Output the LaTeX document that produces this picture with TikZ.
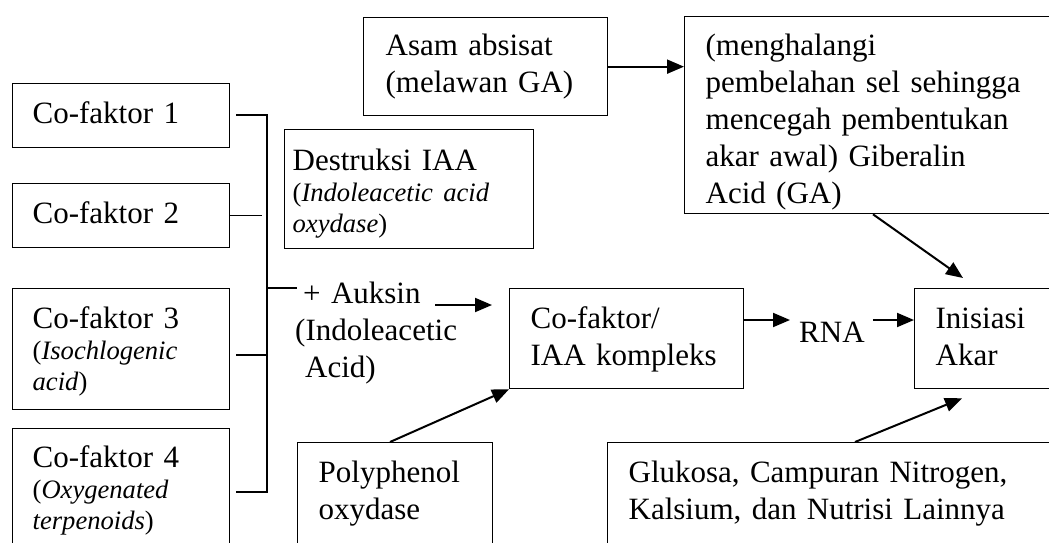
\documentclass[tikz,border=0pt]{standalone}
\usepackage{fontspec}
\setmainfont{Liberation Serif}
\usetikzlibrary{arrows.meta,calc}

\begin{document}
\begin{tikzpicture}[x=1pt,y=-1pt]
	\tikzstyle{box} = [draw, line width=1.3pt, anchor=north west, align=left, inner ysep=0pt, font={\fontsize{31}{37}\selectfont}];
	\tikzstyle{plain} = [inner sep=0pt, align=left, font={\fontsize{31}{37}\selectfont}];
	\tikzstyle{link} = [line width=1.3pt];
	\tikzstyle{point} = [-{Triangle[length=17pt,width=14pt]}, line width=2pt];

	\def \sub {\fontsize{26.6}{31}\selectfont}

	\useasboundingbox (0,0) rectangle (1049,543);
	\clip (0,0) rectangle (1049,543);

	% cofactors on the left
	\node[box, inner xsep=20pt, text width=177pt, text height=40pt, text depth=24pt] (cof1) at (12,83) {Co-faktor 1};
	\node[box, inner xsep=20pt, text width=177pt, text height=40pt, text depth=24pt] (cof2) at (12,183) {Co-faktor 2};
	\node[box, inner xsep=20pt, text width=177pt, text height=40pt, text depth=81pt] (cof3) at (12,288)
		{Co-faktor 3\\\sub(\textit{Isochlogenic}\\\textit{acid})\par};
	\node[box, inner xsep=20pt, text width=177pt, text height=39pt, text depth=110pt] (cof4) at (12,428)
		{Co-faktor 4\\\sub(\textit{Oxygenated}\\\textit{terpenoids})\par};

	% upper boxes
	\node[box, inner xsep=22pt, text width=200pt, text height=38pt, text depth=60pt] (asam) at (363,17)
		{Asam absisat\\(melawan GA)};
	\node[box, inner xsep=8pt, text width=233pt, text height=41pt, text depth=78pt] (destruksi) at (284,129)
		{Destruksi IAA\\\sub(\textit{Indoleacetic acid}\\\textit{oxydase})\par};
	\node[box, inner xsep=21pt, text width=345pt, text height=39pt, text depth=158pt] (ga) at (684,16)
		{(menghalangi\\pembelahan sel sehingga\\mencegah pembentukan\\akar awal) Giberalin\\Acid (GA)};

	% middle row
	\node[plain, text width=150pt, anchor=base west] (auksin) at (295,303)
		{\hspace*{8pt}+ Auksin\\(Indoleacetic\\\hspace*{10pt}Acid)};
	\node[box, inner xsep=21pt, text width=192pt, text height=40pt, text depth=60pt] (cofIAA) at (509,288)
		{Co-faktor/\\IAA kompleks};
	\node[plain, anchor=base west] (rna) at (799,342) {RNA};
	\node[box, inner xsep=21pt, text width=150pt, text height=40pt, text depth=60pt] (ini) at (914,288)
		{Inisiasi\\Akar};

	% lower boxes
	\node[box, inner xsep=21pt, text width=153pt, text height=40pt, text depth=80pt] (poly) at (297,442)
		{Polyphenol\\oxydase};
	\node[box, inner xsep=21pt, text width=420pt, text height=40pt, text depth=80pt] (glu) at (607,442)
		{Glukosa, Campuran Nitrogen,\\Kalsium, dan Nutrisi Lainnya};

	% bracket joining the cofactors
	\coordinate (bus) at (267,288);
	\foreach \c/\dy in {cof1/32,cof3/67,cof4/64} {
		\draw[link] ([xshift=6pt,yshift=-\dy pt]\c.north east) -| (bus);
	}
	\draw[link] (cof2.east) -- ++(32,0);
	\draw[link] (bus) -- ++(30,0);

	% arrows
	\coordinate (auksinEnd) at (435,305);
	\draw[point, shorten >=17pt] (auksinEnd) -- (auksinEnd -| cofIAA.west);
	\draw[point] (asam.east) -- (asam.east -| ga.west);
	\draw[point, shorten >=9pt] ([yshift=-32pt]cofIAA.north east) -- ([yshift=-32pt]cofIAA.north east -| rna.west);
	\draw[point, shorten <=8pt] ([yshift=-32pt]ini.north west -| rna.east) -- ([yshift=-32pt]ini.north west);
	\draw[point] ($(ga.south west)+(189,0)$) -- ($(ini.north west)+(49,-10)$);
	\draw[point] ($(poly.north west)+(93,0)$) -- (cofIAA.south west);
	\draw[point] ($(glu.north west)+(248,0)$) -- ($(ini.south west)+(48,9)$);
\end{tikzpicture}
\end{document}
